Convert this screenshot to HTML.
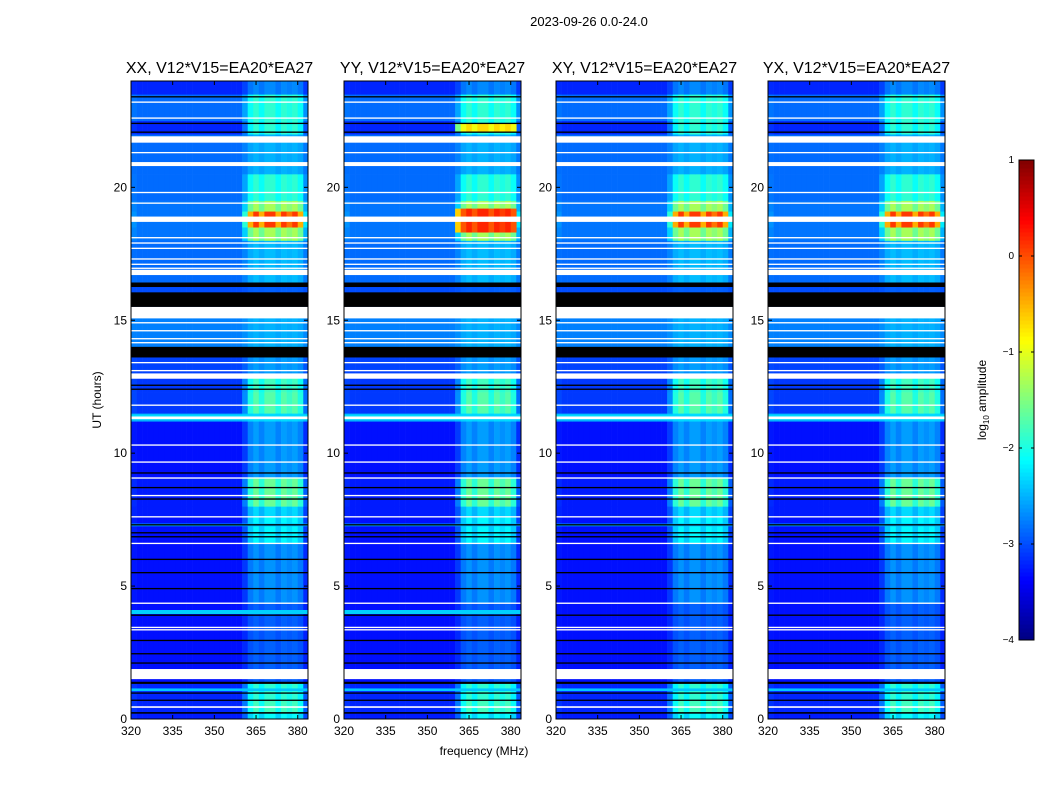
<!DOCTYPE html>
<html><head><meta charset="utf-8"><style>
html,body{margin:0;padding:0;background:#fff;}
svg{display:block;font-family:"Liberation Sans","DejaVu Sans",sans-serif;}
</style></head><body>
<svg id="fig" width="1050" height="800" viewBox="0 0 1050 800">
<text x="589" y="26" font-size="13" text-anchor="middle">2023-09-26 0.0-24.0</text>
<text x="484" y="755" font-size="12" text-anchor="middle">frequency (MHz)</text>
<text transform="translate(101,400) rotate(-90)" font-size="12" text-anchor="middle">UT (hours)</text>
<g id="panels"></g>
<g id="cbar"></g>
</svg>
<script>
const panelTitles = ["XX, V12*V15=EA20*EA27","YY, V12*V15=EA20*EA27","XY, V12*V15=EA20*EA27","YX, V12*V15=EA20*EA27"];
const xTicks = [320,335,350,365,380];
const yTicks = [0,5,10,15,20];
const cbTicks = [1,0,-1,-2,-3,-4];
// time segments: start hour, end hour, background log10 amp, RFI-band log10 amp
const segStart = [0,0.23,0.7,1.35,2.1,4.35,6.6,7.6,8.0,9.1,11.2,11.5,12.3,13.0,14.0,15.1,16.4,18.0,18.5,19.1,19.5,20.5,22.0,22.5,23.5];
const segEnd   = [0.23,0.7,1.35,2.1,4.35,6.6,7.6,8.0,9.1,11.2,11.5,12.3,13.0,14.0,15.1,16.4,18.0,18.5,19.1,19.5,20.5,22.0,22.5,23.5,24];
const segBase  = [-3.25,-3.2,-3.2,-3.3,-3.3,-3.3,-3.3,-3.25,-3.25,-3.3,-2.5,-3.1,-3.1,-3.05,-2.75,-3.0,-2.85,-2.8,-2.8,-2.8,-2.85,-2.85,-3.2,-2.85,-3.2];
const segRfi   = [-2.1,-1.8,-1.9,-2.9,-2.9,-2.65,-2.15,-2.3,-1.6,-2.6,-2.3,-1.7,-1.8,-2.6,-2.5,-2.9,-2.45,-1.3,0.1,-1.3,-1.9,-2.5,-1.9,-1.9,-2.7];
// frequency channel RFI fraction (2 MHz channels starting at 320 MHz)
const chanRfi = [0.05,0,0,0,0,0,0,0,0,0,0,0,0,0,0,0,0,0,0,0,0.3,0.8,1,0.8,1,1,0.8,1,0.9,1,0.8,0.2];
// full-width bands: start, end, level, panels shown
const bandStart = [1.05,3.95,7.25,11.25];
const bandEnd   = [1.15,4.1,7.35,11.45];
const bandLevel = [-2.4,-2.35,-2.5,-2.3];
const bandPanels = [[0,1,2,3],[0,1],[0,1,2,3],[0,1,2,3]];
// RFI overrides: panel, start, end, level
const ovPanel = [1,1];
const ovStart = [22.1,18.3];
const ovEnd   = [22.4,19.2];
const ovLevel = [-0.7,0.2];
// flagged (white) rows
const whiteStart = [0.42,1.5,3.33,3.42,4.33,6.58,7.58,8.38,9.04,9.64,10.28,11.28,11.78,12.8,13.08,13.38,14.13,14.28,14.58,14.88,15.07,16.7,16.93,17.08,17.28,17.68,17.88,18.08,18.7,19.38,19.78,20.8,21.28,21.68,21.7,22.58,23.18];
const whiteEnd   = [0.48,1.88,3.38,3.47,4.38,6.63,7.63,8.43,9.09,9.69,10.33,11.38,11.83,13.0,13.13,13.43,14.18,14.33,14.63,14.93,15.5,16.9,16.98,17.13,17.33,17.73,17.93,18.13,18.9,19.43,19.83,20.95,21.33,21.73,21.92,22.63,23.23];
// dead (black) rows
const blackStart = [0.2,0.68,0.95,1.32,2.08,2.43,2.93,3.88,4.88,5.48,5.98,6.83,6.98,7.28,8.25,8.68,9.23,12.38,12.53,13.6,15.5,16.25,22.05,22.38,23.38];
const blackEnd   = [0.26,0.73,1.0,1.4,2.13,2.48,2.98,3.93,4.93,5.53,6.03,6.88,7.03,7.33,8.3,8.73,9.28,12.43,12.58,14.0,16.05,16.42,22.1,22.43,23.43];

const NS="http://www.w3.org/2000/svg";
function el(t,a,p){const e=document.createElementNS(NS,t);for(const k in a)e.setAttribute(k,a[k]);p.appendChild(e);return e;}
function jet(v){let t=Math.max(0,Math.min(1,(v+4)/5));
 const r=Math.max(0,Math.min(1,1.5-Math.abs(4*t-3))),g=Math.max(0,Math.min(1,1.5-Math.abs(4*t-2))),b=Math.max(0,Math.min(1,1.5-Math.abs(4*t-1)));
 return `rgb(${Math.round(r*255)},${Math.round(g*255)},${Math.round(b*255)})`;}
const lefts=[131,344,556,768], W=177, TOP=81, BOT=719;
const fmin=320,fmax=383.7;
function xs(i,f){return lefts[i]+(f-fmin)/(fmax-fmin)*W;}
function ys(h){return BOT-(h/24)*(BOT-TOP);}
const root=document.getElementById('panels');
for(let p=0;p<4;p++){
 const g=el('g',{},root);
 
 
 const cg=el('g',{},g);
 
 
 for(let s=0;s<segStart.length;s++){
  for(let c=0;c<chanRfi.length;c++){
   const f0=fmin+c*2,f1=Math.min(fmax,f0+2);
   const v=segBase[s]+(segRfi[s]-segBase[s])*chanRfi[c];
   const r=el('rect',{x:xs(p,f0),y:ys(segEnd[s]),width:xs(p,f1)-xs(p,f0)+0.3,height:ys(segStart[s])-ys(segEnd[s])+0.3,fill:jet(v)},cg);
   
   
  }
 }
 for(let b=0;b<bandStart.length;b++){
  if(bandPanels[b].indexOf(p)<0)continue;
  const r=el('rect',{x:lefts[p],y:ys(bandEnd[b]),width:W,height:ys(bandStart[b])-ys(bandEnd[b]),fill:jet(bandLevel[b])},cg);
  
  
 }
 for(let o=0;o<ovPanel.length;o++){
  if(ovPanel[o]!==p)continue;
  for(let c=0;c<chanRfi.length;c++){
   if(chanRfi[c]<0.3)continue;
   const f0=fmin+c*2,f1=Math.min(fmax,f0+2);
   const r=el('rect',{x:xs(p,f0),y:ys(ovEnd[o]),width:xs(p,f1)-xs(p,f0)+0.3,height:ys(ovStart[o])-ys(ovEnd[o]),fill:jet(ovLevel[o]-(1-chanRfi[c])*1.2)},cg);
   
   
  }
 }
 for(let k=0;k<blackStart.length;k++){
  const r=el('rect',{x:lefts[p],y:ys(blackEnd[k]),width:W,height:Math.max(1.2,ys(blackStart[k])-ys(blackEnd[k])),fill:'#000'},cg);
  
  
 }
 for(let k=0;k<whiteStart.length;k++){
  const r=el('rect',{x:lefts[p],y:ys(whiteEnd[k]),width:W,height:Math.max(1.2,ys(whiteStart[k])-ys(whiteEnd[k])),fill:'#fff'},cg);
  
  
 }
 const fr=el('rect',{x:lefts[p],y:TOP,width:W,height:BOT-TOP,fill:'none',stroke:'#000','stroke-width':1},g);
 
 
 const t=el('text',{x:lefts[p]+W/2,y:73,'font-size':16,'text-anchor':'middle'},g);
 t.textContent=panelTitles[p];
 
 
 xTicks.forEach(v=>{const x=xs(p,v);
  el('line',{x1:x,x2:x,y1:BOT,y2:BOT-4,stroke:'#000'},g);
  el('line',{x1:x,x2:x,y1:TOP,y2:TOP+4,stroke:'#000'},g);
  const tt=el('text',{x:x,y:BOT+16,'font-size':12,'text-anchor':'middle'},g);
  tt.textContent=v;
  
  });
 yTicks.forEach(v=>{const y=ys(v);
  el('line',{x1:lefts[p],x2:lefts[p]+4,y1:y,y2:y,stroke:'#000'},g);
  el('line',{x1:lefts[p]+W,x2:lefts[p]+W-4,y1:y,y2:y,stroke:'#000'},g);
  const tt=el('text',{x:lefts[p]-4,y:y+4,'font-size':12,'text-anchor':'end'},g);
  tt.textContent=v;
  
  });
}
// colorbar
const cb=document.getElementById('cbar');


const CB_X=1019,CB_W=15,CB_T=160,CB_B=640;
function cy(v){return CB_B-(v+4)/5*(CB_B-CB_T);}
for(let i=0;i<120;i++){const v=-4+i*5/120;
 el('rect',{x:CB_X,y:cy(v+5/120),width:CB_W,height:(CB_B-CB_T)/120+0.5,fill:jet(v+2.5/120)},cb);}
el('rect',{x:CB_X,y:CB_T,width:CB_W,height:CB_B-CB_T,fill:'none',stroke:'#000'},cb);
cbTicks.forEach(v=>{const y=cy(v);
 el('line',{x1:CB_X,x2:CB_X+3,y1:y,y2:y,stroke:'#000'},cb);
 el('line',{x1:CB_X+CB_W,x2:CB_X+CB_W-3,y1:y,y2:y,stroke:'#000'},cb);
 const t=el('text',{x:CB_X-5,y:y+3,'font-size':10,'text-anchor':'end'},cb);
 t.textContent=v<0?'\u2212'+(-v):v;
 
 });
const cl=el('text',{transform:'translate(986,400) rotate(-90)','font-size':12,'text-anchor':'middle'},cb);
cl.innerHTML='log<tspan font-size="8" dy="3">10</tspan><tspan dy="-3"> amplitude</tspan>';


</script>
</body></html>
